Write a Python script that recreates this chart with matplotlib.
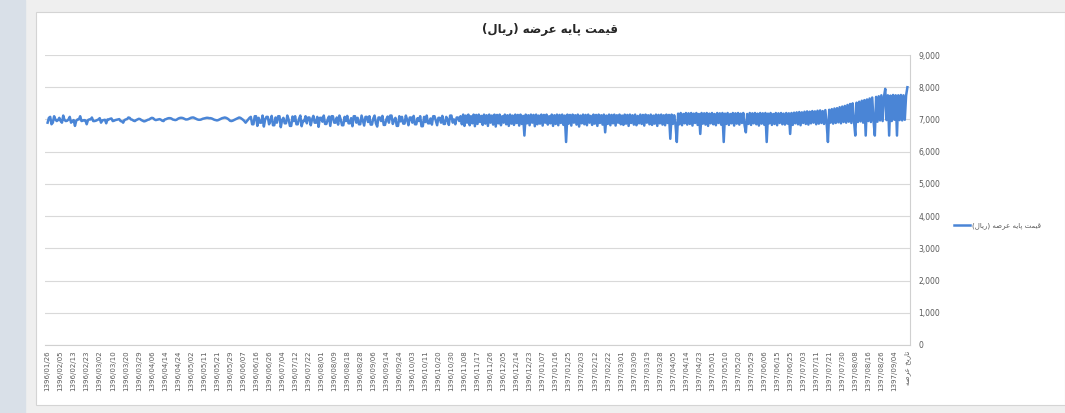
import matplotlib
matplotlib.use("Agg")
import matplotlib.pyplot as plt
from matplotlib.patches import Rectangle
from matplotlib.ticker import StrMethodFormatter

OUT_FILE = "out.png"

TITLE = "قیمت پایه عرضه (ریال)"
SERIES_NAME = "قیمت پایه عرضه (ریال)"
HEADER_LABEL = "تاریخ عرضه"

# base price (rial), one value per offer
prices = [
    # early offers: gentle wiggle round 7,000
    6900, 7050, 7080, 6850, 6900, 7100, 7000, 6950, 6980, 7050,
    6950, 6900, 7120, 6980, 6950, 6960, 7000, 7080, 6900, 6950,
    6980, 6800, 6960, 7000, 7000, 7100, 6950, 6960, 6980, 6970,
    6850, 6980, 7000, 7000, 7060, 6950, 6950, 6960, 6980, 7000,
    7040, 6900, 6970, 6980, 6990, 6880, 7000, 7000, 7020, 7030,
    6950, 6960, 6980, 6990, 7000, 7010, 6950, 6940, 6900, 6980,
    7000, 7010, 7060, 7050, 7000, 6990, 6960, 6950, 6980, 7000,
    7020, 7010, 6980, 6960, 6940, 6950, 6970, 6990, 7000, 7030,
    7050, 7040, 7000, 6980, 6990, 7000, 7010, 6990, 6960, 6950,
    # flat stretch
    7000, 7010, 7030, 7040, 7040, 7030, 7000, 6990, 6980, 6990,
    7020, 7040, 7050, 7050, 7040, 7020, 7000, 7000, 7010, 7030,
    7050, 7060, 7060, 7040, 7020, 7000, 6990, 6990, 7000, 7020,
    7030, 7040, 7050, 7050, 7040, 7040, 7030, 7010, 6990, 6980,
    6970, 6980, 7000, 7020, 7040, 7050, 7060, 7050, 7030, 7000,
    6960, 6950, 6960, 6980, 7000, 7020, 7040, 7060, 7050, 7020,
    6990, 6950, 6900, 6950, 7000, 7050, 7080,
    # zigzag stretch
    6850, 6850, 7100, 7100, 6800, 7050, 6900, 6900, 7120, 6780,
    7000, 7080, 7080, 6850, 6950, 7110, 6820, 6820, 7060, 6900,
    7100, 7100, 6760, 6980, 7050, 6880, 6880, 7120, 7000, 6800,
    6800, 7090, 6950, 7100, 6850, 6850, 7020, 7120, 6790, 6950,
    6950, 7100, 6880, 7060, 7060, 6820, 7000, 7110, 6900, 6900,
    7080, 6770, 7050, 7050, 6930, 7120, 6860, 6860, 7000, 7090,
    6800, 7100, 7100, 6900, 6900, 7060, 6840, 7120, 7000, 6820,
    6820, 7080, 6950, 7110, 6880, 6880, 7040, 6790, 7100, 7100,
    6900, 7050, 6850, 6850, 7120, 6960, 6810, 7080, 7080, 6920,
    7100, 6840, 6840, 7030, 7120, 6880, 6780, 7060, 7060, 6950,
    7110, 6830, 6830, 7000, 7090, 6900, 7120, 7120, 6860, 6980,
    7050, 6800, 6800, 7100, 6940, 7080, 6870, 6870, 7120, 6990,
    6820, 7060, 7060, 6900, 7110, 6850, 6850, 7040, 6950, 7100,
    6790, 6790, 7080, 6920, 7120, 6880, 6880, 7030, 6840, 7100,
    7100, 6960, 6820, 7050, 7050, 6900, 7110, 6860, 6860, 7080,
    6990, 6830, 7120, 7120, 6900, 7000, 6850, 7060, 7060, 6950,
    7100,
    # dense band
    6850, 7150, 6800, 7120, 6900, 7150, 6820, 7100, 6880, 7150,
    6790, 7140, 6860, 7150, 6920, 7110, 6830, 7150, 6870, 7130,
    6800, 7150, 6900, 7120, 6840, 7150, 6780, 7140, 6880, 7150,
    6820, 7100, 6900, 7150, 6850, 7130, 6800, 7150, 6870, 7120,
    6830, 7150, 6890, 7140, 6810, 7150, 6860, 7110, 6500, 7150,
    6880, 7130, 6820, 7150, 6900, 7140, 6790, 7150, 6850, 7120,
    6870, 7150, 6810, 7140, 6900, 7150, 6840, 7100, 6880, 7150,
    6800, 7130, 6860, 7150, 6820, 7140, 6890, 7150, 6830, 7120,
    6300, 7150, 6870, 7140, 6810, 7150, 6900, 7130, 6840, 7150,
    6780, 7120, 6880, 7150, 6850, 7140, 6820, 7150, 6900, 7110,
    6830, 7150, 6870, 7140, 6800, 7150, 6890, 7130, 6840, 7150,
    6600, 7120, 6860, 7150, 6820, 7140, 6880, 7150, 6810, 7130,
    6900, 7150, 6850, 7120, 6830, 7150, 6870, 7140, 6800, 7150,
    6890, 7130, 6840, 7150, 6820, 7110, 6880, 7150, 6860, 7140,
    6810, 7150, 6900, 7130, 6850, 7150, 6830, 7120, 6870, 7150,
    6800, 7140, 6880, 7150, 6840, 7130, 6820, 7150, 6890, 7140,
    6400, 7150, 6860, 7130, 6830,
    # latest offers, drifting up
    6300, 7180, 6850, 7200, 6820, 7170, 6880, 7200, 6840, 7190,
    6860, 7200, 6810, 7180, 6890, 7200, 6830, 7170, 6550, 7200,
    6870, 7190, 6840, 7200, 6800, 7180, 6880, 7200, 6850, 7170,
    6820, 7200, 6890, 7190, 6840, 7200, 6300, 7180, 6860, 7200,
    6830, 7170, 6880, 7200, 6810, 7190, 6870, 7200, 6840, 7180,
    6890, 7200, 6820, 6600, 7170, 6860, 7200, 6830, 7190, 6880,
    7200, 6850, 7180, 6810, 7200, 6870, 7190, 6840, 7200, 6300,
    7180, 6880, 7200, 6830, 7170, 6860, 7200, 6820, 7190, 6890,
    7200, 6850, 7180, 6840, 7200, 6870, 7190, 6550, 7200, 6830,
    7210, 6880, 7220, 6850, 7230, 6820, 7220, 6890, 7240, 6860,
    7250, 6840, 7240, 6880, 7260, 6900, 7250, 6850, 7270, 6870,
    7280, 6890, 7260, 6860, 7290, 6880, 6300, 7300, 6900, 7320,
    6870, 7340, 6890, 7350, 6910, 7380, 6880, 7400, 6920, 7420,
    6900, 7450, 6930, 7480, 6890, 7500, 6950, 6500, 7520, 6920,
    7550, 6940, 7580, 6900, 7600, 6500, 7620, 6950, 7650, 6920,
    7680, 6960, 6500, 7700, 6930, 7720, 6970, 7750, 6950, 7700,
    7950, 6980, 7750, 6500, 7740, 6950, 7760, 6990, 7750, 6500,
    7750, 6980, 7760, 6970, 7750, 6990, 7740, 8000,
]

# one date label every 10 offers, the sheet header sits at the end
dates = [
    "1396/01/26", "1396/02/05", "1396/02/13", "1396/02/23", "1396/03/02",
    "1396/03/10", "1396/03/20", "1396/03/29", "1396/04/06", "1396/04/14",
    "1396/04/24", "1396/05/02", "1396/05/11", "1396/05/21", "1396/05/29",
    "1396/06/07", "1396/06/16", "1396/06/26", "1396/07/04", "1396/07/12",
    "1396/07/22", "1396/08/01", "1396/08/09", "1396/08/18", "1396/08/28",
    "1396/09/06", "1396/09/14", "1396/09/24", "1396/10/03", "1396/10/11",
    "1396/10/20", "1396/10/30", "1396/11/08", "1396/11/17", "1396/11/26",
    "1396/12/05", "1396/12/14", "1396/12/23", "1397/01/07", "1397/01/16",
    "1397/01/25", "1397/02/03", "1397/02/12", "1397/02/22", "1397/03/01",
    "1397/03/09", "1397/03/19", "1397/03/28", "1397/04/05", "1397/04/14",
    "1397/04/23", "1397/05/01", "1397/05/10", "1397/05/20", "1397/05/29",
    "1397/06/06", "1397/06/15", "1397/06/25", "1397/07/03", "1397/07/11",
    "1397/07/21", "1397/07/30", "1397/08/08", "1397/08/16", "1397/08/26",
    "1397/09/04",
]
LABEL_STEP = 10

# matplotlib has no arabic shaping, so pick presentation forms by hand
# (isolated, final, initial, medial)
FORMS = {
    "ا": ("\uFE8D", "\uFE8E", None, None),
    "ر": ("\uFEAD", "\uFEAE", None, None),
    "پ": ("\uFB56", "\uFB57", "\uFB58", "\uFB59"),
    "ت": ("\uFE95", "\uFE96", "\uFE97", "\uFE98"),
    "خ": ("\uFEA5", "\uFEA6", "\uFEA7", "\uFEA8"),
    "ض": ("\uFEBD", "\uFEBE", "\uFEBF", "\uFEC0"),
    "ع": ("\uFEC9", "\uFECA", "\uFECB", "\uFECC"),
    "ق": ("\uFED5", "\uFED6", "\uFED7", "\uFED8"),
    "ل": ("\uFEDD", "\uFEDE", "\uFEDF", "\uFEE0"),
    "م": ("\uFEE1", "\uFEE2", "\uFEE3", "\uFEE4"),
    "ه": ("\uFEE9", "\uFEEA", "\uFEEB", "\uFEEC"),
    "ی": ("\uFBFC", "\uFBFD", "\uFBFE", "\uFBFF"),
}
RIGHT_ONLY = set("ادذرزژو")


def shape(text):
    out = []
    for i, ch in enumerate(text):
        if ch not in FORMS:
            out.append(ch)
            continue
        prev = text[i - 1] if i > 0 else ""
        nxt = text[i + 1] if i + 1 < len(text) else ""
        joins_prev = prev in FORMS and prev not in RIGHT_ONLY
        joins_next = nxt in FORMS and ch not in RIGHT_ONLY
        iso, fin, ini, med = FORMS[ch]
        if joins_prev and joins_next:
            out.append(med)
        elif joins_prev:
            out.append(fin)
        elif joins_next:
            out.append(ini)
        else:
            out.append(iso)
    # visual order for an rtl line, brackets mirrored
    return "".join(out)[::-1].translate(str.maketrans("()", ")("))


def main():
    plt.rcParams["font.family"] = ["DejaVu Sans"]
    W, H = 1065, 413
    fig = plt.figure(figsize=(W / 100, H / 100), dpi=100, facecolor="#efefef")

    # window chrome around the excel chart
    fig.patches.append(Rectangle((0, 0), 25 / W, 1, transform=fig.transFigure,
                                 color="#d9e0e8", zorder=-10))
    fig.patches.append(Rectangle((36 / W, 8 / H), 1 - 36 / W, 1 - 20 / H,
                                 transform=fig.transFigure, facecolor="white",
                                 edgecolor="#d4d4d4", lw=0.8, zorder=-10))

    ax = fig.add_axes([45 / W, 1 - 345 / H, 865 / W, 290 / H])
    ax.set_zorder(5)
    ax.set_facecolor("none")
    x = list(range(len(prices)))
    line, = ax.plot(x, prices, color="#4a85d6", lw=1.8)

    ax.set_ylim(0, 9000)
    ax.set_yticks(range(0, 9001, 1000))
    ax.yaxis.set_major_formatter(StrMethodFormatter("{x:,.0f}"))
    ax.yaxis.tick_right()
    ax.grid(axis="y", color="#d9d9d9", lw=0.8)
    ax.set_axisbelow(True)

    labels = dates + [shape(HEADER_LABEL)]
    ax.set_xticks([i * LABEL_STEP for i in range(len(labels))])
    ax.set_xticklabels(labels, rotation=90, fontsize=5, color="#595959")
    ax.set_xlim(-2, len(prices) + 1)
    ax.tick_params(axis="both", length=0, pad=4)
    ax.tick_params(axis="y", labelsize=5.5, labelcolor="#595959", pad=6)

    for side in ("top", "left"):
        ax.spines[side].set_visible(False)
    ax.spines["bottom"].set_color("#d0d0d0")
    ax.spines["right"].set_color("#d0d0d0")

    fig.text(550 / W, 1 - 30 / H, shape(TITLE), ha="center", va="center",
             fontsize=8.5, fontweight="bold", color="#262626")

    leg = fig.legend([line], [shape(SERIES_NAME)], loc="center left",
                     bbox_to_anchor=(948 / W, 1 - 226 / H), frameon=False,
                     fontsize=5, handlelength=2.2, handletextpad=0.3,
                     labelcolor="#595959")
    leg.set_zorder(6)

    fig.savefig(OUT_FILE, dpi=100, facecolor=fig.get_facecolor())


if __name__ == "__main__":
    main()
